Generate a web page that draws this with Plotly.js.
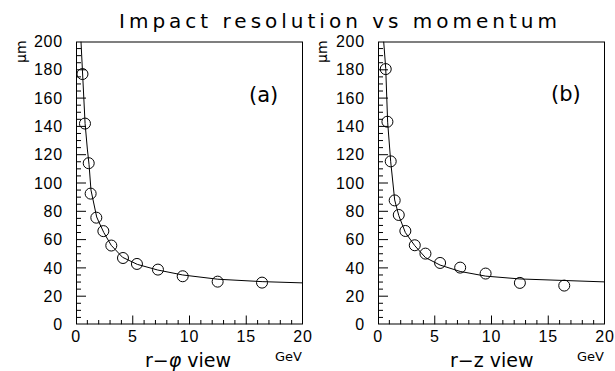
<!DOCTYPE html>
<html>
<head>
<meta charset="utf-8">
<script src="https://cdn.plot.ly/plotly-3.0.1.min.js"></script>
<style>
html, body { margin: 0; padding: 0; background: #fff; }
#chart { width: 615px; height: 371px; }
.gtitle { letter-spacing: 4px; }
.xtick text, .ytick text, .x2tick text, .y2tick text { letter-spacing: 0.8px; }
</style>
</head>
<body>
<div id="chart"></div>
<script>
// Measured points, r-phi view (a)
const momentumA = [0.57, 0.79, 1.12, 1.29, 1.79, 2.41, 3.11, 4.14, 5.37, 7.22, 9.40, 12.48, 16.39];
const resolutionA = [177, 142, 114, 92.5, 75.5, 66, 55.8, 47, 42.8, 38.8, 34.1, 30.3, 29.6];
// Fitted curve, r-phi view
const curveMomA = [0.44, 0.57, 0.8, 1.0, 1.15, 1.32, 1.6, 1.82, 2.1, 2.45, 3.1, 4.1, 5.4, 7.2, 9.4, 12.5, 16.4, 20];
const curveResA = [200, 178, 142, 124, 113, 95, 83, 76, 71, 65, 56, 47.5, 42.5, 38.5, 35, 32, 30.3, 29.4];

// Measured points, r-z view (b)
const momentumB = [0.68, 0.83, 1.12, 1.47, 1.83, 2.41, 3.24, 4.18, 5.47, 7.24, 9.48, 12.5, 16.41];
const resolutionB = [180.5, 143.3, 115.3, 87.7, 77.4, 66.1, 56, 50.1, 43.5, 40.2, 36, 29.4, 27.5];
// Fitted curve, r-z view
const curveMomB = [0.5, 0.68, 0.85, 1.12, 1.47, 1.83, 2.41, 3.24, 4.18, 5.47, 7.24, 9.48, 12.5, 16.4, 20];
const curveResB = [200, 181, 143, 115, 88, 77, 65, 55.7, 47.3, 42, 37.5, 34.2, 32.2, 31.2, 30.1];

// Axis ranges and tick positions
const xRange = [0, 20];
const yRange = [0, 200];
const xMajorTicks = [5, 10, 15];
const xMinorTicks = [1, 2, 3, 4, 6, 7, 8, 9, 11, 12, 13, 14, 16, 17, 18, 19];
const yMajorTicks = [20, 40, 60, 80, 100, 120, 140, 160, 180];
const yMinorTicks = [5, 10, 15, 25, 30, 35, 45, 50, 55, 65, 70, 75, 85, 90, 95, 105, 110, 115,
                     125, 130, 135, 145, 150, 155, 165, 170, 175, 185, 190, 195];

const titleText = 'Impact resolution vs momentum';
const panelLabels = ['(a)', '(b)'];
const xTitles = ['r\u2212<i>\u03C6</i> view', 'r\u2212z view'];
const unitX = 'GeV';
const unitY = '\u03BCm';

const W = 615, H = 371;
const px = v => v / W;
const py = v => 1 - v / H;

// Plot-area size in pixels, used to turn tick lengths (px) into axis units
const plotWpx = 227, plotHpx = 283;
const xUnitsPerPx = (xRange[1] - xRange[0]) / plotWpx;
const yUnitsPerPx = (yRange[1] - yRange[0]) / plotHpx;

function frameAndTicks(xa, ya) {
  const fx = [xRange[0], xRange[1], xRange[1], xRange[0], xRange[0]];
  const fy = [yRange[0], yRange[0], yRange[1], yRange[1], yRange[0]];
  const tx = [], ty = [];
  const addX = (v, lenPx) => { tx.push(v, v, null); ty.push(yRange[0], yRange[0] + lenPx * yUnitsPerPx, null); };
  const addY = (v, lenPx) => { ty.push(v, v, null); tx.push(xRange[0], xRange[0] + lenPx * xUnitsPerPx, null); };
  xMajorTicks.forEach(v => addX(v, 9));
  xMinorTicks.forEach(v => addX(v, 4.5));
  yMajorTicks.forEach(v => addY(v, 10));
  yMinorTicks.forEach(v => addY(v, 5));
  return [
    { x: fx, y: fy, xaxis: xa, yaxis: ya, mode: 'lines', line: { color: '#000', width: 2 }, hoverinfo: 'skip' },
    { x: tx, y: ty, xaxis: xa, yaxis: ya, mode: 'lines', line: { color: '#000', width: 1 }, hoverinfo: 'skip' }
  ];
}

const markerStyle = { symbol: 'circle-open', size: 11, color: '#000', line: { width: 1, color: '#000' } };
const lineStyle = { color: '#000', width: 1 };

const traces = [
  ...frameAndTicks('x', 'y'),
  ...frameAndTicks('x2', 'y2'),
  { x: curveMomA, y: curveResA, xaxis: 'x', yaxis: 'y', mode: 'lines', line: lineStyle, hoverinfo: 'skip' },
  { x: momentumA, y: resolutionA, xaxis: 'x', yaxis: 'y', mode: 'markers', marker: markerStyle },
  { x: curveMomB, y: curveResB, xaxis: 'x2', yaxis: 'y2', mode: 'lines', line: lineStyle, hoverinfo: 'skip' },
  { x: momentumB, y: resolutionB, xaxis: 'x2', yaxis: 'y2', mode: 'markers', marker: markerStyle }
];

const tickFont = { family: 'Liberation Sans, Arial, sans-serif', size: 16, color: '#000' };
function xAxis(domain, anchor) {
  return {
    domain: domain, anchor: anchor, range: xRange, tick0: 0, dtick: 5,
    ticks: '', showgrid: false, zeroline: false, showline: false,
    tickfont: tickFont
  };
}
function yAxis(domain, anchor) {
  return {
    domain: domain, anchor: anchor, range: yRange, tick0: 0, dtick: 20,
    ticks: '', showgrid: false, zeroline: false, showline: false,
    tickfont: tickFont, ticklabelstandoff: 12
  };
}

const yDom = [1 - 324.5 / H, 1 - 41.5 / H];
const gothic = 'DejaVu Sans, Verdana, sans-serif';

const layout = {
  width: W, height: H,
  margin: { l: 0, r: 0, t: 0, b: 0, pad: 0 },
  paper_bgcolor: '#fff', plot_bgcolor: '#fff',
  showlegend: false,
  title: { text: titleText, x: px(340), y: py(21), xanchor: 'center', yanchor: 'middle',
           xref: 'paper', yref: 'paper', font: { family: gothic, size: 20, color: '#000' } },
  xaxis: xAxis([76 / W, 303 / W], 'y'),
  yaxis: yAxis(yDom, 'x'),
  xaxis2: xAxis([378 / W, 605 / W], 'y2'),
  yaxis2: yAxis(yDom, 'x2'),
  annotations: [
    { text: panelLabels[0], x: px(263), y: py(95), xref: 'paper', yref: 'paper', showarrow: false,
      xanchor: 'center', yanchor: 'middle', font: { family: gothic, size: 21, color: '#000' } },
    { text: panelLabels[1], x: px(566), y: py(94), xref: 'paper', yref: 'paper', showarrow: false,
      xanchor: 'center', yanchor: 'middle', font: { family: gothic, size: 21, color: '#000' } },
    { text: xTitles[0], x: px(188), y: py(360), xref: 'paper', yref: 'paper', showarrow: false,
      xanchor: 'center', yanchor: 'middle', font: { family: gothic, size: 19, color: '#000' } },
    { text: xTitles[1], x: px(492), y: py(360), xref: 'paper', yref: 'paper', showarrow: false,
      xanchor: 'center', yanchor: 'middle', font: { family: gothic, size: 19, color: '#000' } },
    { text: unitX, x: px(304), y: py(356), xref: 'paper', yref: 'paper', showarrow: false,
      xanchor: 'right', yanchor: 'middle', font: { family: gothic, size: 13, color: '#000' } },
    { text: unitX, x: px(606), y: py(356), xref: 'paper', yref: 'paper', showarrow: false,
      xanchor: 'right', yanchor: 'middle', font: { family: gothic, size: 13, color: '#000' } },
    { text: unitY, x: px(21), y: py(52), xref: 'paper', yref: 'paper', showarrow: false, textangle: -90,
      xanchor: 'center', yanchor: 'middle', font: { family: gothic, size: 14, color: '#000' } },
    { text: unitY, x: px(322), y: py(52), xref: 'paper', yref: 'paper', showarrow: false, textangle: -90,
      xanchor: 'center', yanchor: 'middle', font: { family: gothic, size: 14, color: '#000' } }
  ]
};

Plotly.newPlot('chart', traces, layout, { staticPlot: true, displayModeBar: false });
</script>
</body>
</html>
